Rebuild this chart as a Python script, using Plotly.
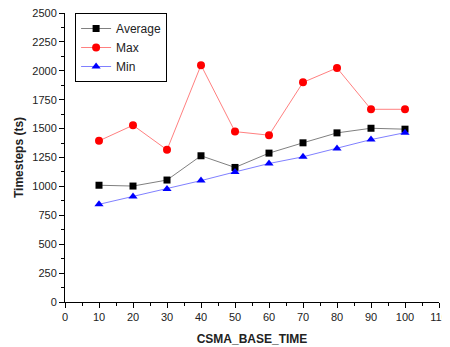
import plotly.graph_objects as go

csma_base_time = [10, 20, 30, 40, 50, 60, 70, 80, 90, 100]
average = [1010, 1003, 1055, 1265, 1164, 1288, 1377, 1463, 1503, 1495]
maximum = [1394, 1529, 1316, 2049, 1474, 1443, 1900, 2025, 1667, 1667]
minimum = [845, 912, 978, 1050, 1125, 1198, 1256, 1328, 1405, 1465]

fig = go.Figure()
fig.add_trace(go.Scatter(x=csma_base_time, y=average, name="Average", mode="lines+markers",
                         line=dict(color="#808080", width=1),
                         marker=dict(symbol="square", size=7, color="black")))
fig.add_trace(go.Scatter(x=csma_base_time, y=maximum, name="Max", mode="lines+markers",
                         line=dict(color="#ff8080", width=1),
                         marker=dict(symbol="circle", size=8, color="red")))
fig.add_trace(go.Scatter(x=csma_base_time, y=minimum, name="Min", mode="lines+markers",
                         line=dict(color="#8080ff", width=1),
                         marker=dict(symbol="triangle-up", size=8, color="blue")))

axis_common = dict(showgrid=False, zeroline=False, showline=True, linecolor="black", linewidth=1,
                   ticks="outside", ticklen=5, tickcolor="black", mirror=False, automargin=False,
                   ticklabeloverflow="allow",
                   tickfont=dict(family="Liberation Sans, Arial", size=11, color="#222"))
fig.update_xaxes(range=[0, 110], tick0=0, dtick=10,
                 minor=dict(ticks="outside", ticklen=3, dtick=5, tickcolor="black"),
                 title=dict(text="<b>CSMA_BASE_TIME</b>", font=dict(family="Liberation Sans, Arial", size=12, color="#222"), standoff=12),
                 **axis_common)
fig.update_yaxes(range=[0, 2500], tick0=0, dtick=250,
                 minor=dict(ticks="outside", ticklen=3, dtick=125, tickcolor="black"),
                 title=dict(text="<b>Timesteps (ts)</b>", font=dict(family="Liberation Sans, Arial", size=12, color="#222"), standoff=6),
                 **axis_common)

fig.update_layout(width=442, height=339, margin=dict(l=57, r=11, t=5, b=45),
                  plot_bgcolor="white", paper_bgcolor="white",
                  font=dict(family="Liberation Sans, Arial", color="#222"),
                  legend=dict(x=0.027, y=1.0, xanchor="left", yanchor="top",
                              bordercolor="black", borderwidth=1, bgcolor="white",
                              font=dict(size=12), tracegroupgap=0),
                  showlegend=True)

fig.write_html("out.html")
